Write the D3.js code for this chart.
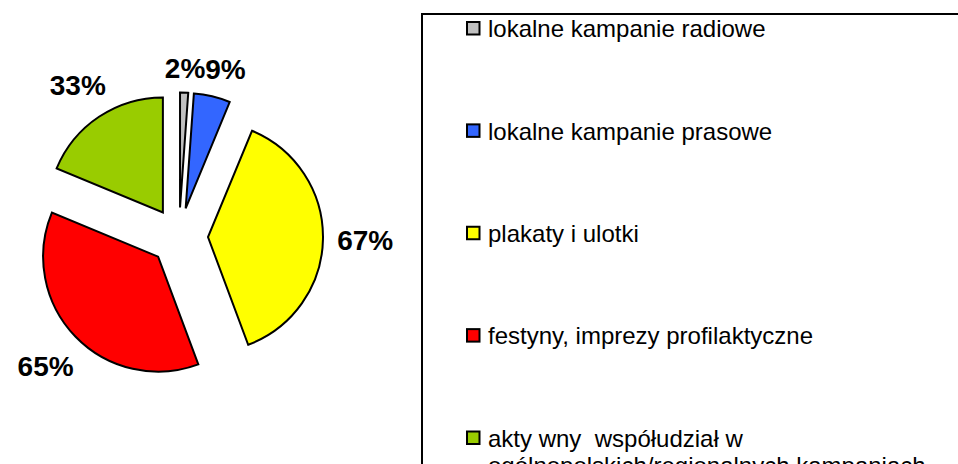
<!DOCTYPE html>
<html>
<head>
<meta charset="utf-8">
<script src="https://cdn.jsdelivr.net/npm/d3@7"></script>
<style>
  body { margin: 0; background: #fff; }
  svg { display: block; font-family: "Liberation Sans", Arial, sans-serif; }
</style>
</head>
<body>
<svg id="chart" width="958" height="464"></svg>
<script>
// data
const categories = [
    "lokalne kampanie radiowe",
    "lokalne kampanie prasowe",
    "plakaty i ulotki",
    "festyny, imprezy profilaktyczne",
    "akty wny  współudział w|ogólnopolskich/regionalnych kampaniach"
]
const values = [2, 9, 67, 65, 33]
const labels = ["2%", "9%", "67%", "65%", "33%"]
const colors = ["#c0c0c0", "#3366ff", "#ffff00", "#ff0000", "#99cc00"]

const width = 958
const height = 464
const cx = 179
const cy = 236.5
const radius = 115
const explode = 29
const labelGap = 14

const svg = d3.select("#chart")

const rows = categories.map((c, i) => ({ name: c, value: values[i], label: labels[i], color: colors[i] }))

const pie = d3.pie().sort(null).value(d => d.value)
const arc = d3.arc().innerRadius(0).outerRadius(radius)
const arcs = pie(rows)

const pieG = svg.append("g").attr("transform", `translate(${cx},${cy})`)

const midAngle = d => (d.startAngle + d.endAngle) / 2

// slices, every one pulled out along its middle
pieG.selectAll("path.slice")
    .data(arcs)
    .join("path")
    .attr("class", "slice")
    .attr("d", arc)
    .attr("transform", d => {
        const a = midAngle(d)
        return `translate(${Math.sin(a) * explode},${-Math.cos(a) * explode})`
    })
    .attr("fill", d => d.data.color)
    .attr("stroke", "#000")
    .attr("stroke-width", 2)
    .attr("stroke-linejoin", "miter")

// percent labels outside the slices
const labelSize = 28
const labelText = pieG.selectAll("text.pct")
    .data(arcs)
    .join("text")
    .attr("class", "pct")
    .attr("font-size", labelSize)
    .attr("font-weight", "bold")
    .attr("text-anchor", "middle")
    .text(d => d.data.label)

const placed = []
labelText.each(function (d) {
    const a = midAngle(d)
    const s = Math.sin(a), c = -Math.cos(a)
    const halfW = this.getComputedTextLength() / 2
    const halfH = labelSize * 0.37
    const r = radius + explode + labelGap + Math.abs(s) * halfW + Math.abs(c) * halfH
    let x = s * r
    const y = c * r
    // push sideways when it runs into the label before it
    const prev = placed[placed.length - 1]
    if (prev && Math.abs(prev.y - y) < 2 * halfH && x - halfW < prev.x + prev.halfW) {
        x = prev.x + prev.halfW + halfW
    }
    placed.push({ x, y, halfW })
    d3.select(this)
        .attr("x", x)
        .attr("y", y + halfH)
})

// legend
const legend = svg.append("g")
legend.append("rect")
    .attr("x", 422)
    .attr("y", 14)
    .attr("width", 700)
    .attr("height", 600)
    .attr("fill", "#fff")
    .attr("stroke", "#000")
    .attr("stroke-width", 2)

const yLegend = d3.scalePoint().domain(categories).range([28.5, 438])

const item = legend.selectAll("g.item")
    .data(rows)
    .join("g")
    .attr("class", "item")
    .attr("transform", d => `translate(467,${yLegend(d.name)})`)

item.append("rect")
    .attr("x", 0)
    .attr("y", -6.5)
    .attr("width", 12.5)
    .attr("height", 12.5)
    .attr("fill", d => d.color)
    .attr("stroke", "#000")
    .attr("stroke-width", 2)

item.append("text")
    .attr("x", 21)
    .attr("y", 8.7)
    .attr("font-size", 24)
    .attr("fill", "#000")
    .style("white-space", "pre")
    .selectAll("tspan")
    .data(d => d.name.split("|"))
    .join("tspan")
    .attr("x", 21)
    .attr("dy", (d, i) => i ? 27 : 0)
    .text(d => d)
</script>
</body>
</html>
